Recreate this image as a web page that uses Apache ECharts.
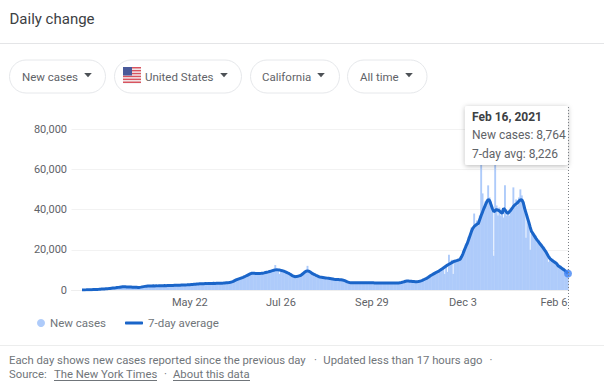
<!DOCTYPE html>
<html><head><meta charset="utf-8">
<style>html,body{margin:0;padding:0;background:#fff}#c{width:604px;height:387px}</style>
<script src="https://cdn.jsdelivr.net/npm/echarts@6/dist/echarts.min.js"></script>
</head><body><div id="c"></div>
<script>
var yTicks = [0, 20000, 40000, 60000, 80000];
var tickLabels = ["May 22", "Jul 26", "Sep 29", "Dec 3", "Feb 6"];
var chipLabels = ["New cases", "United States", "California", "All time"];
var avg = [
40,50,60,70,90,110,130,160,190,220,
260,300,340,390,440,490,540,600,660,730,
800,880,960,1040,1120,1210,1300,1400,1500,1600,
1600,1570,1540,1500,1470,1440,1400,1380,1350,1330,
1300,1300,1420,1550,1680,1800,1920,2000,2010,2040,
2000,2060,2020,2080,2050,2100,2130,2090,2140,2180,
2150,2190,2220,2200,2250,2280,2300,2320,2360,2400,
2380,2430,2470,2500,2520,2560,2610,2650,2700,2740,
2800,2860,2950,3020,3100,3130,3100,3160,3200,3170,
3220,3250,3210,3260,3300,3280,3330,3300,3300,3350,
3400,3450,3520,3580,3640,3700,3860,4040,4300,4650,
5000,5300,5550,5800,6050,6300,6600,6950,7300,7650,
8000,8300,8350,8300,8250,8200,8230,8260,8300,8350,
8500,8680,8850,9000,9200,9400,9600,9800,10000,10050,
10000,9900,9750,9600,9400,9100,8800,8450,8100,7700,
7200,6900,6600,6650,6800,7000,7200,7700,8300,8900,
9300,9500,9350,8900,8400,8000,7700,7300,7000,6700,
6400,6300,6200,6100,6000,5900,5800,5700,5600,5450,
5300,5250,5200,5200,5150,5100,5000,4800,4500,4200,
3900,3750,3650,3600,3600,3620,3650,3600,3580,3620,
3600,3650,3620,3580,3600,3620,3600,3560,3550,3520,
3500,3480,3520,3500,3460,3500,3480,3440,3460,3480,
3450,3430,3470,3500,3480,3460,3500,3550,3700,3900,
4100,4350,4450,4450,4400,4350,4250,4200,4150,4100,
4200,4350,4550,4800,5100,5450,5800,6200,6700,7200,
7600,8000,8400,8800,9100,9500,10000,10400,10900,11400,
11900,12400,12800,13200,13600,14000,14300,14500,14700,15000,
15200,16500,18000,19800,21500,23000,25000,27000,29000,30600,
31500,32200,32700,33000,35000,37000,38800,40600,42200,43800,
45000,44500,42500,40500,38900,39400,40000,39700,39300,38700,
38000,40600,39800,38800,38000,38800,39500,40500,41500,42300,
42800,43400,44200,44700,44900,43500,40600,38300,36000,33700,
31200,29000,28000,26900,25800,24800,23900,23000,22100,21200,
20200,19200,18000,16800,15700,15100,14500,14000,13500,13000,
12000,11600,11100,10600,10100,9500,8900,8226
];
var newCases = [
40,50,70,60,90,120,120,170,190,210,
270,290,350,380,450,480,560,590,680,720,
820,870,980,1030,1140,1200,1330,1390,1540,1650,
1650,1560,1570,1480,1500,1420,1430,1360,1380,1310,
1340,1290,1460,1530,1720,1780,1980,1990,2060,2020,
2050,2030,2070,2060,2100,2080,2190,2060,2190,2160,
2200,2170,2270,2180,2300,2260,2350,2300,2420,2370,
2430,2410,2520,2480,2580,2530,2670,2620,2760,2710,
2880,2830,3030,2990,3190,3090,3170,3130,3280,3130,
3300,3210,3280,3230,3380,3250,3420,3260,3370,3320,
3480,3410,3600,3550,3730,3660,3980,3980,4420,4560,
5200,5200,5750,5700,6250,6150,6900,6800,7600,7500,
8300,8150,8650,8200,8550,8050,8500,8100,8600,8200,
8900,8500,9300,8850,9700,9200,10200,9600,12400,9700,
10600,8000,10300,9400,9800,8900,9300,8200,8500,7500,
7600,6700,6900,6500,7100,6850,7600,7500,8800,8700,
9800,12000,9800,8700,8800,7800,8100,7100,7300,6500,
6700,6150,6500,5950,6300,5750,6100,5550,5900,5300,
5600,5100,5500,5050,5400,4950,5300,4650,4700,4050,
4100,3650,3850,3500,3800,3500,3850,3500,3750,3500,
3800,3550,3800,3480,3800,3500,3800,3450,3700,3420,
3700,3400,3700,3420,3650,3400,3680,3360,3640,3400,
3600,3350,3620,3420,3630,3380,3650,3600,3900,3900,
4300,4900,4700,4400,4600,4250,4400,4100,4300,4000,
4350,4250,4750,4700,5350,5300,6100,6000,7000,7000,
7900,7800,8700,8600,9500,9300,10400,10100,11300,8000,
12300,9000,17500,13000,15000,8000,15000,14300,15300,14800,
16500,16000,19500,19000,23000,22000,26500,26000,31000,29500,
38000,31000,34500,32000,37000,65000,48000,39000,44000,42000,
52000,46000,44000,39000,17000,66000,42000,37000,41000,37000,
40000,36000,52000,37000,39000,37000,41000,40000,51000,41000,
45000,42000,46000,50000,47000,43000,42000,26000,37000,32000,
20000,28000,29000,26000,27000,24000,25000,22500,23000,20500,
21500,18500,19000,14000,16500,14500,15500,13500,14500,12500,
13000,11000,12000,10000,11000,9000,9700,8764
];

// the date axis starts a week before the first reported day
var leadDays = 7;
var categories = [];
for (var i = 0, d0 = Date.UTC(2020, 1, 28); i < avg.length + leadDays; i++) {
  var dt = new Date(d0 + i * 864e5);
  categories.push(dt.toLocaleDateString("en-US", {month: "short", day: "numeric", timeZone: "UTC"}));
}
var pad = [null, null, null, null, null, null, null];
var fmt = function (v) { return v.toLocaleString("en-US"); };
var last = categories.length - 1;
var latestAvg = avg[avg.length - 1], latestCases = newCases[newCases.length - 1];
var FONT = "Roboto, sans-serif";
var GREY = "#5f6368", FOOT = "#70757a", DARK = "#3c4043", BORDER = "#e6e8eb";

function txt(x, y, s, size, color, weight) {
  return {type: "text", x: x, y: y, z: 20, silent: true,
    style: {text: s, fontFamily: FONT, fontSize: size, fill: color, fontWeight: weight || 400, verticalAlign: "middle", textAlign: "left"}};
}
function rect(x, y, w, h, fill, r, extra) {
  var st = {fill: fill};
  for (var k in (extra || {})) st[k] = extra[k];
  return {type: "rect", z: 15, silent: true, shape: {x: x, y: y, width: w, height: h, r: r || 0}, style: st};
}
function hline(x1, x2, y, color) {
  return {type: "line", z: 15, silent: true, shape: {x1: x1, y1: y, x2: x2, y2: y}, style: {stroke: color, lineWidth: 1}};
}
function tri(cx, cy) {
  return {type: "polygon", z: 15, silent: true, shape: {points: [[cx - 3.8, cy - 2], [cx + 3.8, cy - 2], [cx, cy + 2.2]]}, style: {fill: "#4d5156"}};
}
var g = [];
g.push(txt(9.5, 19, "Daily change", 15, DARK));
g.push(hline(0, 604, 43.5, "#e4e5e7"));
var chips = [[9.5, 96], [114.5, 127], [250.5, 89], [347.5, 79.5]];
var chipText = [22, 145, 262, 360];
var chipTri = [88, 224, 321, 409];
chips.forEach(function (c, i) {
  g.push(rect(c[0], 60, c[1], 33, "#fff", 16.5, {stroke: BORDER, lineWidth: 1}));
  g.push(txt(chipText[i], 76.5, chipLabels[i], 11.5, GREY));
  g.push(tri(chipTri[i], 75));
});
// flag
g.push(rect(123, 67, 18, 17, "#f4f4f6", 1));
[0, 1, 2, 3, 4, 5].forEach(function (n) { g.push(rect(123, 67 + n * 2.9, 18, 1.5, "#d8545f")); });
g.push(rect(123, 67, 9, 8.5, "#4a5a9a"));
// footer
g.push(hline(0, 604, 345.5, "#eceded"));
g.push(txt(9, 360.5, "Each day shows new cases reported since the previous day", 11.3, FOOT));
g.push(txt(314, 360.5, "\u00b7", 11.3, FOOT));
g.push(txt(323.3, 360.5, "Updated less than 17 hours ago", 11.3, FOOT));
g.push(txt(489.5, 360.5, "\u00b7", 11.3, FOOT));
g.push(txt(9, 374.5, "Source:", 11.3, FOOT));
g.push(txt(54, 374.5, "The New York Times", 11.3, FOOT));
g.push(hline(54, 157, 380.5, FOOT));
g.push(txt(164, 374.5, "\u00b7", 11.3, FOOT));
g.push(txt(173, 374.5, "About this data", 11.3, FOOT));
g.push(hline(173, 250, 380.5, FOOT));

var chart = echarts.init(document.getElementById("c"), null, {renderer: "svg"});
var option = {
  animation: false,
  backgroundColor: "#fff",
  textStyle: {fontFamily: FONT},
  grid: {left: 71.5, right: 35.3, top: 108.9, bottom: 97},
  legend: [
    {data: ["New cases"], left: 32, top: 312, icon: "circle", itemWidth: 8, itemHeight: 8, itemGap: 0, selectedMode: false,
     textStyle: {color: FOOT, fontSize: 11.5, fontFamily: FONT}},
    {data: ["7-day average"], left: 120, top: 312, icon: "roundRect", itemWidth: 18, itemHeight: 3, selectedMode: false,
     textStyle: {color: FOOT, fontSize: 11.5, fontFamily: FONT}}
  ],
  xAxis: {
    type: "category", data: categories, boundaryGap: true,
    axisLine: {show: true, lineStyle: {color: "#eeeeee"}},
    axisTick: {show: false},
    axisLabel: {
      color: GREY, fontSize: 11, fontFamily: FONT, margin: 7, hideOverlap: false,
      interval: function (i, v) { return tickLabels.indexOf(v) >= 0; }
    }
  },
  yAxis: {
    type: "value", min: 0, max: 90000, interval: 20000,
    axisLine: {show: false}, axisTick: {show: false},
    axisLabel: {color: GREY, fontSize: 11, fontFamily: FONT, margin: 4.5, showMaxLabel: false,
      formatter: function (v) { return yTicks.indexOf(v) >= 0 ? fmt(v) : ""; }},
    splitLine: {show: true, showMaxLine: false, lineStyle: {color: "#f2f2f2"}}
  },
  series: [
    {name: "New cases", type: "bar", data: pad.concat(newCases), barWidth: 1.9, itemStyle: {color: "#aecbfa"}, z: 2},
    {name: "7-day average", type: "line", data: pad.concat(avg), showSymbol: false, symbol: "none", connectNulls: false,
     lineStyle: {color: "#1a65c9", width: 3}, itemStyle: {color: "#1a65c9"}, z: 3},
    {name: "Latest", type: "scatter", data: [[last, latestAvg]], symbolSize: 8, itemStyle: {color: "#4285f4"}, z: 4, silent: true}
  ],
  graphic: {elements: g}
};
chart.setOption(option);

// vertical pointer and hover card placed from the chart's own scale
var px = chart.convertToPixel({xAxisIndex: 0}, last);
var card = [];
card.push({type: "line", z: 16, silent: true, shape: {x1: px + 0.5, y1: 107, x2: px + 0.5, y2: 310},
  style: {stroke: "#7a7e83", lineWidth: 1, lineDash: [1, 2]}});
card.push(rect(px - 103, 106, 103, 59, "#fff", 2, {shadowBlur: 5, shadowColor: "rgba(0,0,0,0.28)", shadowOffsetY: 1}));
card.push(txt(px - 96, 116.5, "Feb 16, 2021", 12, DARK, 700));
card.push(txt(px - 96, 135, "New cases: " + fmt(latestCases), 12, GREY));
card.push(txt(px - 96, 153.5, "7-day avg: " + fmt(latestAvg), 12, GREY));
chart.setOption({graphic: {elements: g.concat(card)}});
</script></body></html>
